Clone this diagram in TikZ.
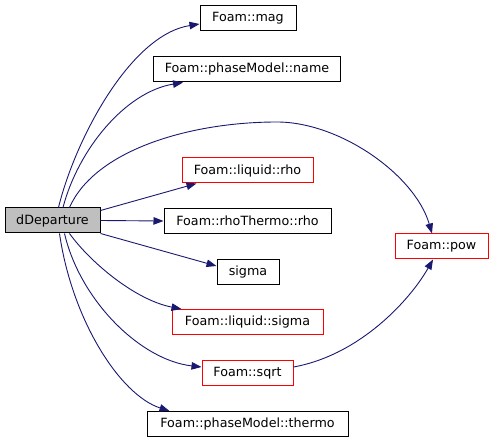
\documentclass[tikz,border=0pt]{standalone}
\usepackage{fontspec}
\setmainfont{DejaVu Sans}
\usetikzlibrary{arrows.meta}
\definecolor{edgeblue}{RGB}{25,25,112}
\definecolor{curgray}{RGB}{191,191,191}
\tikzset{
  fn/.style={draw=black, rectangle, line width=1pt, fill=white, font=\fontsize{12.7}{15}\selectfont, minimum height=25pt, inner xsep=11pt, inner ysep=2pt},
  fnred/.style={fn, draw=red},
  fncur/.style={fn, fill=curgray},
  call/.style={-{Triangle[length=10pt,width=7.5pt]}, draw=edgeblue, line width=0.9pt},
}
\begin{document}
\begin{tikzpicture}[x=1pt,y=-1pt]
\useasboundingbox (0,0) rectangle (495,443);
\node[fncur, minimum width=95pt] (dd) at (52.5,220.5) {dDeparture};
\node[fn, minimum width=96pt] (mag) at (248,18) {Foam::mag};
\node[fn, minimum width=187pt] (name) at (247,69.5) {Foam::phaseModel::name};
\node[fnred, minimum width=131pt] (lrho) at (247.5,170.5) {Foam::liquid::rho};
\node[fn, minimum width=167pt] (rtrho) at (247.5,221) {Foam::rhoThermo::rho};
\node[fn, minimum width=62pt] (sigma) at (248,272) {sigma};
\node[fnred, minimum width=151pt] (lsigma) at (247.5,322) {Foam::liquid::sigma};
\node[fnred, minimum width=91pt] (sqrt) at (247.5,373) {Foam::sqrt};
\node[fn, minimum width=201pt] (thermo) at (247.5,424) {Foam::phaseModel::thermo};
\node[fnred, minimum width=93pt] (pow) at (441.5,246.5) {Foam::pow};
\draw[call] ([xshift=6pt]dd.north) .. controls (75,140) and (130,35) .. ([yshift=-6pt]mag.west);
\draw[call] ([xshift=10.5pt]dd.north) .. controls (78,150) and (125,92) .. ([xshift=-64pt]name.south);
\draw[call] ([xshift=17pt]dd.north) .. controls (95,150) and (190,122) .. (277,122) .. controls (340,122) and (415,175) .. ([xshift=-9.5pt]pow.north);
\draw[call] ([yshift=-3pt]dd.north east) -- ([xshift=15pt]lrho.south west);
\draw[call] (dd.east) -- (rtrho.west);
\draw[call] (dd.south east) -- ([yshift=6pt]sigma.west);
\draw[call] ([xshift=17pt]dd.south) .. controls (90,262) and (135,300) .. ([xshift=10pt]lsigma.north west);
\draw[call] ([xshift=12pt]dd.south) .. controls (80,300) and (140,360) .. ([yshift=6pt]sqrt.west);
\draw[call] ([xshift=7pt]dd.south) .. controls (72,320) and (120,395) .. ([xshift=23pt]thermo.north west);
\draw[call] ([yshift=6pt]sqrt.east) .. controls (360,355) and (410,300) .. ([xshift=-8.5pt]pow.south);
\end{tikzpicture}
\end{document}
